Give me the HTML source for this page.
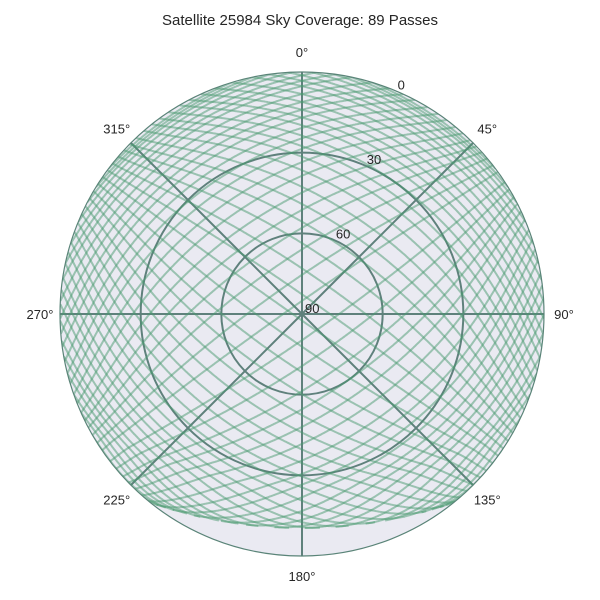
<!DOCTYPE html>
<html><head><meta charset="utf-8"><style>
body{margin:0;background:#fff;}
svg{display:block;font-family:"Liberation Sans","DejaVu Sans",sans-serif;}
</style></head><body>
<svg id="chart" width="600" height="600" viewBox="0 0 600 600">
<defs><clipPath id="diskClip"><circle cx="302" cy="314" r="242"/></clipPath></defs>
<text x="300" y="25" text-anchor="middle" font-size="15" fill="#262626">Satellite 25984 Sky Coverage: 89 Passes</text>
<circle cx="302" cy="314" r="242" fill="#eaeaf2"/>
<g id="grid"></g>
<g id="passes" clip-path="url(#diskClip)"></g>
<circle cx="302" cy="314" r="242" fill="none" stroke="#5a8478" stroke-width="1.2"/>
<g id="labels" font-size="13" fill="#262626"></g>
</svg>
<script>
// Family A: southeast-bound passes; Family B: southwest-bound passes
const passMaxElA=[88,80,72,65,58,52,46,41,36,32,28,24,21,18,15,12,10,8,6,4.5,3,2,1,84,76,68,61,55,49,43,38,34,30,26,23,20,17,14,11,9,7,5,3.5,2.5,1.5];
const passSideA=[1,1,1,1,1,1,1,1,1,1,1,1,1,1,1,1,1,1,1,1,1,1,1,-1,-1,-1,-1,-1,-1,-1,-1,-1,-1,-1,-1,-1,-1,-1,-1,-1,-1,-1,-1,-1,-1];
const passMaxElB=[86,78,70,63,57,51,45,40,35,31,27,23,20,17,14,11,9,7,5,3.5,2.5,1.5,82,74,66,60,54,48,42,37,33,29,25,22,19,16,13,10,8,6,4,2.8,1.8,1];
const passSideB=[1,1,1,1,1,1,1,1,1,1,1,1,1,1,1,1,1,1,1,1,1,1,-1,-1,-1,-1,-1,-1,-1,-1,-1,-1,-1,-1,-1,-1,-1,-1,-1,-1,-1,-1,-1,-1];
const headingA=125, headingB=235;
const orbitAlt=0.125; // altitude in Earth radii
const angleTicks=[0,45,90,135,180,225,270,315];
const elevTicks=[0,30,60,90];

const NS='http://www.w3.org/2000/svg';
const cx=302,cy=314,R=242;
const bandC=[302,63],bandR=465,bandSoft=45;
function rOf(el){return R*(90-el)/90;}
function pt(az,r){const a=az*Math.PI/180;return [cx+r*Math.sin(a),cy-r*Math.cos(a)];}
function mk(tag,attrs,parent){const e=document.createElementNS(NS,tag);for(const k in attrs)e.setAttribute(k,attrs[k]);parent.appendChild(e);return e;}

const grid=document.getElementById('grid');
for(const el of [30,60]){
  const c=mk('circle',{cx:cx,cy:cy,r:rOf(el),fill:'none',stroke:'#5f817c',"stroke-width":2},grid);
  
  
}
for(const a of angleTicks){
  const p=pt(a,R);
  const l=mk('line',{x1:cx,y1:cy,x2:p[0],y2:p[1],stroke:'#5f817c',"stroke-width":2},grid);
  
  
}

const rs=1+orbitAlt;
function look(c,s,dir,perp){
  const u=[Math.cos(c)*Math.sin(s)*dir[0]+Math.sin(c)*perp[0],
           Math.cos(c)*Math.sin(s)*dir[1]+Math.sin(c)*perp[1],
           Math.cos(c)*Math.cos(s)];
  const v=[rs*u[0],rs*u[1],rs*u[2]-1];
  const el=Math.atan2(v[2],Math.hypot(v[0],v[1]))*180/Math.PI;
  const az=Math.atan2(v[0],v[1])*180/Math.PI;
  return [az,el];
}
function elAt(c){return Math.atan2(rs*Math.cos(c)-1,rs*Math.sin(c))*180/Math.PI;}
function crossFor(maxEl){
  let lo=0,hi=Math.acos(1/rs);
  for(let i=0;i<50;i++){const m=(lo+hi)/2;if(elAt(m)>maxEl)lo=m;else hi=m;}
  return (lo+hi)/2;
}
function bandDist(p){return bandR-Math.hypot(p[0]-bandC[0],p[1]-bandC[1]);}
function warp(p){
  const d=bandDist(p);
  if(d>=bandSoft)return p;
  const x=bandSoft;
  const f=2*d*d/x-d*d*d/(x*x);
  const vx=p[0]-bandC[0],vy=p[1]-bandC[1],L=Math.hypot(vx,vy);
  const nr=bandR-f;
  return [bandC[0]+vx/L*nr,bandC[1]+vy/L*nr];
}
const passes=document.getElementById('passes');
function drawPass(maxEl,side,heading,idx){
  const c=crossFor(maxEl);
  const h=heading*Math.PI/180;
  const dir=[Math.sin(h),Math.cos(h)];
  const perp=[Math.cos(h)*side,-Math.sin(h)*side];
  const pts=[];
  let entered=false;
  const smax=Math.acos(1/rs)*1.05;
  for(let s=-smax;s<=smax;s+=smax/400){
    const [az,el]=look(c,s,dir,perp);
    if(el<0){if(entered)break;continue;}
    const p=pt(az,rOf(el));
    if(bandDist(p)>=0){entered=true;pts.push(warp(p));}
    else if(entered)break;
  }
  if(pts.length<2)return;
  const path=mk('path',{d:'M'+pts.map(p=>p[0].toFixed(1)+','+p[1].toFixed(1)).join('L'),fill:'none',stroke:'#4a9a70',"stroke-opacity":0.5,"stroke-width":2,"stroke-linejoin":"round"},passes);
  
  
}
passMaxElA.forEach((m,i)=>drawPass(m,passSideA[i],headingA,'a'+i));
passMaxElB.forEach((m,i)=>drawPass(m,passSideB[i],headingB,'b'+i));

const labels=document.getElementById('labels');
for(const a of angleTicks){
  const p=pt(a,262);
  const t=mk('text',{x:p[0],y:p[1]+5,"text-anchor":"middle"},labels);
  t.textContent=a+'°';
  
  
}
for(const el of elevTicks){
  const p=pt(22.5,rOf(el));
  const t=mk('text',{x:p[0]+3,y:p[1]-1,"text-anchor":"start"},labels);
  t.textContent=el;
  
  
}
</script>
</body></html>
